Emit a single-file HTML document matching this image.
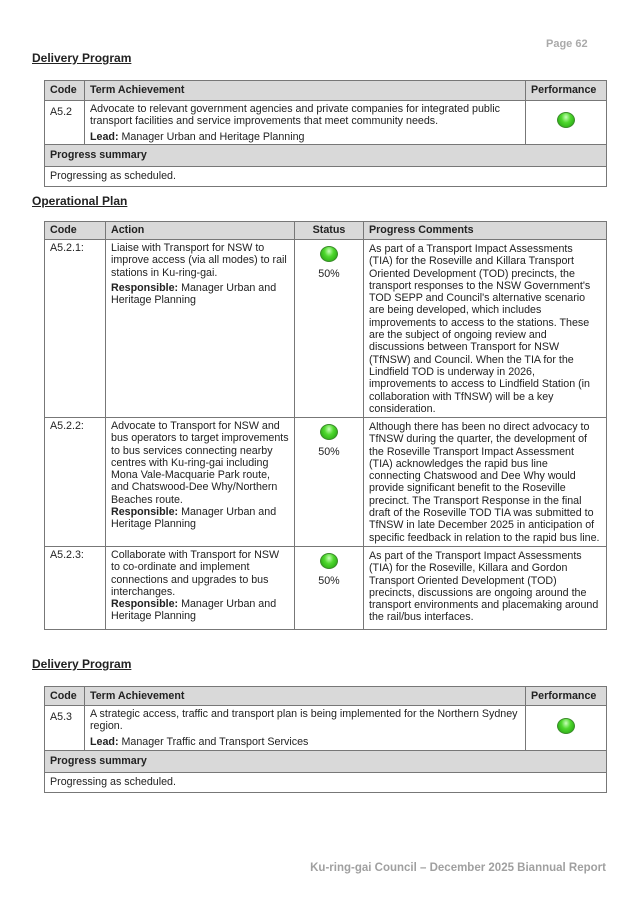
<!DOCTYPE html>
<html><head><meta charset="utf-8"><style>
body{margin:0;width:637px;height:901px;background:#fff;font-family:"Liberation Sans",sans-serif;color:#222;position:relative;overflow:hidden}
.a{position:absolute}
h2{position:absolute;margin:0;font-size:12px;font-weight:bold;text-decoration:underline;left:32px}
table{position:absolute;left:44px;width:562px;border-collapse:collapse;table-layout:fixed;font-size:10.7px;line-height:12.3px}
td{border:1px solid #777;vertical-align:top;padding:2px 5px 0;overflow:hidden;white-space:nowrap}
.h td{background:#d9d9d9;font-weight:bold;vertical-align:middle;padding:0 5px}
.g{background:#d9d9d9;font-weight:bold;vertical-align:middle!important;padding:0 5px!important}
.dot{width:18px;height:16px;border-radius:50%;background:radial-gradient(ellipse at 50% 30%,#c8ffb8 0%,#4fd82e 40%,#1e9a0c 100%);margin:4px auto 0;border:1px solid #3a8a2a;box-sizing:border-box}
.c{text-align:center}
p{margin:0}
</style></head><body>
<div class="a" style="left:546px;top:38px;font-size:11px;font-weight:bold;color:#aaa">Page 62</div>
<h2 style="top:51px">Delivery Program</h2>
<table style="top:80px">
<colgroup><col style="width:40px"><col style="width:441px"><col style="width:81px"></colgroup>
<tr class="h" style="height:20px"><td>Code</td><td>Term Achievement</td><td>Performance</td></tr>
<tr style="height:44px"><td style="padding-top:5px">A5.2</td><td><p>Advocate to relevant government agencies and private companies for integrated public<br>transport facilities and service improvements that meet community needs.</p><p style="margin-top:3px"><b>Lead:</b> Manager Urban and Heritage Planning</p></td><td><div class="dot" style="margin-top:9px"></div></td></tr>
<tr style="height:22px"><td colspan="3" class="g">Progress summary</td></tr>
<tr style="height:20px"><td colspan="3" style="vertical-align:middle;padding:0 5px">Progressing as scheduled.</td></tr>
</table>
<h2 style="top:194px">Operational Plan</h2>
<table style="top:221px">
<colgroup><col style="width:61px"><col style="width:189px"><col style="width:69px"><col style="width:243px"></colgroup>
<tr class="h" style="height:18px"><td>Code</td><td>Action</td><td class="c">Status</td><td>Progress Comments</td></tr>
<tr style="height:178px"><td>A5.2.1:</td><td><p>Liaise with Transport for NSW to<br>improve access (via all modes) to rail<br>stations in Ku-ring-gai.</p><p style="margin-top:3px"><b>Responsible:</b> Manager Urban and<br>Heritage Planning</p></td><td class="c"><div class="dot"></div><p style="margin-top:6px">50%</p></td><td style="padding-top:3px">As part of a Transport Impact Assessments<br>(TIA) for the Roseville and Killara Transport<br>Oriented Development (TOD) precincts, the<br>transport responses to the NSW Government's<br>TOD SEPP and Council's alternative scenario<br>are being developed, which includes<br>improvements to access to the stations. These<br>are the subject of ongoing review and<br>discussions between Transport for NSW<br>(TfNSW) and Council. When the TIA for the<br>Lindfield TOD is underway in 2026,<br>improvements to access to Lindfield Station (in<br>collaboration with TfNSW) will be a key<br>consideration.</td></tr>
<tr style="height:129px"><td>A5.2.2:</td><td>Advocate to Transport for NSW and<br>bus operators to target improvements<br>to bus services connecting nearby<br>centres with Ku-ring-gai including<br>Mona Vale-Macquarie Park route,<br>and Chatswood-Dee Why/Northern<br>Beaches route.<br><b>Responsible:</b> Manager Urban and<br>Heritage Planning</td><td class="c"><div class="dot"></div><p style="margin-top:6px">50%</p></td><td style="padding-top:3px">Although there has been no direct advocacy to<br>TfNSW during the quarter, the development of<br>the Roseville Transport Impact Assessment<br>(TIA) acknowledges the rapid bus line<br>connecting Chatswood and Dee Why would<br>provide significant benefit to the Roseville<br>precinct. The Transport Response in the final<br>draft of the Roseville TOD TIA was submitted to<br>TfNSW in late December 2025 in anticipation of<br>specific feedback in relation to the rapid bus line.</td></tr>
<tr style="height:83px"><td>A5.2.3:</td><td>Collaborate with Transport for NSW<br>to co-ordinate and implement<br>connections and upgrades to bus<br>interchanges.<br><b>Responsible:</b> Manager Urban and<br>Heritage Planning</td><td class="c"><div class="dot"></div><p style="margin-top:6px">50%</p></td><td style="padding-top:3px">As part of the Transport Impact Assessments<br>(TIA) for the Roseville, Killara and Gordon<br>Transport Oriented Development (TOD)<br>precincts, discussions are ongoing around the<br>transport environments and placemaking around<br>the rail/bus interfaces.</td></tr>
</table>
<h2 style="top:657px">Delivery Program</h2>
<table style="top:686px">
<colgroup><col style="width:40px"><col style="width:441px"><col style="width:81px"></colgroup>
<tr class="h" style="height:19px"><td>Code</td><td>Term Achievement</td><td>Performance</td></tr>
<tr style="height:45px"><td style="padding-top:5px">A5.3</td><td><p>A strategic access, traffic and transport plan is being implemented for the Northern Sydney<br>region.</p><p style="margin-top:3px"><b>Lead:</b> Manager Traffic and Transport Services</p></td><td><div class="dot" style="margin-top:10px"></div></td></tr>
<tr style="height:22px"><td colspan="3" class="g">Progress summary</td></tr>
<tr style="height:20px"><td colspan="3" style="vertical-align:middle;padding:0 5px">Progressing as scheduled.</td></tr>
</table>
<div class="a" style="right:31px;top:862px;font-size:11.5px;font-weight:bold;color:#a0a0a0">Ku-ring-gai Council – December 2025 Biannual Report</div>
</body></html>
